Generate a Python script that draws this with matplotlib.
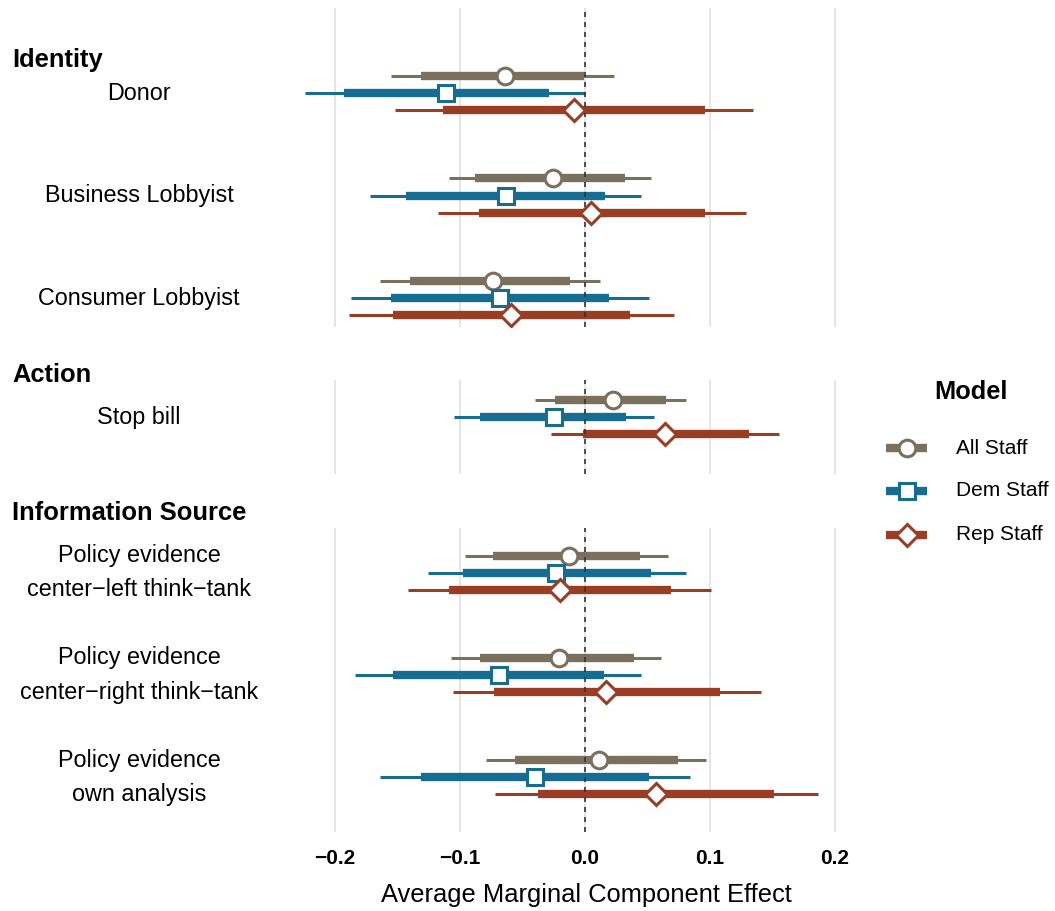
import numpy as np
import matplotlib
matplotlib.use("Agg")
import matplotlib.pyplot as plt
from matplotlib.transforms import blended_transform_factory

plt.rcParams['font.family'] = ['Liberation Sans', 'DejaVu Sans']

categories = ["Donor", "Business Lobbyist", "Consumer Lobbyist", "Stop bill",
              "Policy evidence\ncenter\u2212left think\u2212tank",
              "Policy evidence\ncenter\u2212right think\u2212tank",
              "Policy evidence\nown analysis"]
groups = ["Identity", "Identity", "Identity", "Action",
          "Information Source", "Information Source", "Information Source"]
models = ["All Staff", "Dem Staff", "Rep Staff"]

all_est = [-0.064, -0.026, -0.074, 0.022, -0.013, -0.021, 0.011]
all_lo95 = [-0.155, -0.109, -0.164, -0.040, -0.096, -0.107, -0.079]
all_hi95 = [0.023, 0.053, 0.012, 0.081, 0.066, 0.061, 0.097]
all_lo90 = [-0.131, -0.088, -0.140, -0.024, -0.074, -0.084, -0.056]
all_hi90 = [-0.001, 0.032, -0.012, 0.065, 0.044, 0.039, 0.074]

dem_est = [-0.111, -0.063, -0.068, -0.025, -0.023, -0.069, -0.040]
dem_lo95 = [-0.224, -0.172, -0.187, -0.105, -0.126, -0.184, -0.164]
dem_hi95 = [0.000, 0.045, 0.051, 0.055, 0.081, 0.045, 0.084]
dem_lo90 = [-0.193, -0.143, -0.155, -0.084, -0.098, -0.154, -0.131]
dem_hi90 = [-0.029, 0.016, 0.019, 0.033, 0.053, 0.015, 0.051]

rep_est = [-0.009, 0.005, -0.059, 0.064, -0.020, 0.017, 0.057]
rep_lo95 = [-0.152, -0.118, -0.189, -0.027, -0.142, -0.106, -0.072]
rep_hi95 = [0.134, 0.129, 0.071, 0.155, 0.101, 0.141, 0.186]
rep_lo90 = [-0.114, -0.085, -0.154, -0.002, -0.109, -0.073, -0.038]
rep_hi90 = [0.096, 0.096, 0.036, 0.131, 0.069, 0.108, 0.151]

xticks = [-0.2, -0.1, 0.0, 0.1, 0.2]
xticklabels = ["\u22120.2", "\u22120.1", "0.0", "0.1", "0.2"]

colors = ["#7b6f5d", "#176c91", "#993d25"]
markers = ["o", "s", "D"]
msizes = [12, 11, 11.5]
series = [
    (all_est, all_lo95, all_hi95, all_lo90, all_hi90),
    (dem_est, dem_lo95, dem_hi95, dem_lo90, dem_hi90),
    (rep_est, rep_lo95, rep_hi95, rep_lo90, rep_hi90),
]

W, H = 1055, 911
fig = plt.figure(figsize=(W / 100, H / 100), dpi=100)

# panel layout in pixels: (group, top, bottom, ylim, header y)
unit = 102.5
panels = [
    ("Identity", 8, 327, (-85 / unit, 2 + 29 / unit), 60),
    ("Action", 380, 474, (-37 / unit, 57 / unit), 375),
    ("Information Source", 528, 832, (-45 / unit, 2 + 55 / unit), 513),
]
xlim = (-0.23, 0.23)
x_left = 335 - 0.03 * 1250
x_w = 0.46 * 1250
offsets = [-0.166, 0.0, 0.166]

axes = []
for gname, top, bot, ylim, head_y in panels:
    ax = fig.add_axes([x_left / W, 1 - bot / H, x_w / W, (bot - top) / H])
    idx = [i for i, g in enumerate(groups) if g == gname]
    ax.set_xlim(xlim)
    ax.set_ylim(ylim[1], ylim[0])
    for xv in xticks:
        ax.axvline(xv, color="#e3e3e3", lw=1.3, zorder=0)
    ax.axvline(0, color="#333333", lw=1.2, ls=(0, (3, 3)), zorder=3)
    for k, (est, lo95, hi95, lo90, hi90) in enumerate(series):
        ys = [j + offsets[k] for j in range(len(idx))]
        ax.hlines(ys, [lo95[i] for i in idx], [hi95[i] for i in idx],
                  color=colors[k], lw=2.2, capstyle="butt", zorder=2)
        ax.hlines(ys, [lo90[i] for i in idx], [hi90[i] for i in idx],
                  color=colors[k], lw=6, capstyle="butt", zorder=2)
        ax.plot([est[i] for i in idx], ys, ls="none", marker=markers[k],
                ms=msizes[k], mfc="white", mec=colors[k], mew=2.2, zorder=4)
    tr = blended_transform_factory(fig.transFigure, ax.transData)
    for j, i in enumerate(idx):
        ax.text(139 / W, j, categories[i], transform=tr, ha="center", va="center",
                fontsize=16.8, linespacing=1.62)
    fig.text(12 / W, 1 - head_y / H, gname, fontsize=18.4, fontweight="bold",
             ha="left", va="center")
    ax.set_yticks([])
    ax.set_xticks([])
    for s in ax.spines.values():
        s.set_visible(False)
    ax.patch.set_alpha(0)
    axes.append(ax)

# x axis ticks and title under the bottom panel
ax = axes[-1]
tr = blended_transform_factory(ax.transData, fig.transFigure)
for xv, lab in zip(xticks, xticklabels):
    ax.text(xv, 1 - 858 / H, lab, transform=tr, ha="center", va="center",
            fontsize=15, fontweight="bold")
fig.text(586 / W, 1 - 895 / H, "Average Marginal Component Effect",
         ha="center", va="center", fontsize=18.4)

# legend
lax = fig.add_axes([0, 0, 1, 1])
lax.set_xlim(0, W)
lax.set_ylim(H, 0)
lax.axis("off")
lax.text(971, 392, "Model", ha="center", va="center", fontsize=18.3, fontweight="bold")
for k, (name, ly) in enumerate(zip(models, [448, 491, 535])):
    lax.plot([886, 927], [ly, ly], color=colors[k], lw=6, solid_capstyle="butt")
    lax.plot([906.5], [ly], ls="none", marker=markers[k], ms=msizes[k],
             mfc="white", mec=colors[k], mew=2.2)
    lax.text(956, ly, name, ha="left", va="center", fontsize=15)

fig.savefig("out.png", dpi=100)
